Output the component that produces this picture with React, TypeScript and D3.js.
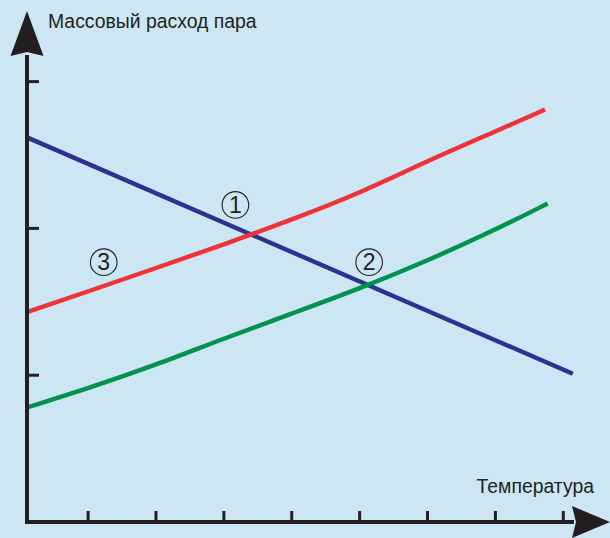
import React from "react";
import * as d3 from "d3";

// x in temperature units (ticks at 1..8), y in flow units (ticks at 1..3)
const tempSteps = [0.1, 1, 2, 3, 4, 5, 6, 7, 7.73];
const redValues = [1.43, 1.57, 1.73, 1.89, 2.06, 2.24, 2.46, 2.66, 2.81];
const greenTemps = [0.1, 1, 2, 3, 4, 5, 6, 7, 7.77];
const greenValues = [0.78, 0.91, 1.07, 1.25, 1.42, 1.59, 1.78, 1.99, 2.17];
const blueTemps = [0.1, 8.14];
const blueValues = [2.62, 1.01];

const xTicks = [1, 2, 3, 4, 5, 6, 7, 8];
const yTicks = [1, 2, 3];

const markers = [
  { label: "1", t: 3.17, v: 2.16 },
  { label: "2", t: 5.14, v: 1.77 },
  { label: "3", t: 1.23, v: 1.77 },
];

const yTitle = "Массовый расход пара";
const xTitle = "Температура";

const W = 610;
const H = 538;
const BG = "#cce7f3";
const INK = "#231f20";
const FONT = "'Liberation Sans', Arial, sans-serif";

export default function App() {
  const x = d3.scaleLinear().domain([0.1, 8]).range([27, 563.3]);
  const y = d3.scaleLinear().domain([0, 3]).range([522, 81.6]);

  // basis spline smooths out the small reading errors in the sampled values
  const line = d3
    .line<[number, number]>()
    .x((d) => x(d[0]))
    .y((d) => y(d[1]))
    .curve(d3.curveBasis);

  const series = [
    { color: "#2e3192", pts: blueTemps.map((t, i) => [t, blueValues[i]] as [number, number]) },
    { color: "#ef3237", pts: tempSteps.map((t, i) => [t, redValues[i]] as [number, number]) },
    { color: "#00934a", pts: greenTemps.map((t, i) => [t, greenValues[i]] as [number, number]) },
  ];

  const x0 = x(0.1);
  const y0 = y(0);

  return (
    <svg
      width={W}
      height={H}
      style={{ position: "absolute", left: 0, top: 0, display: "block" }}
    >
      <rect width={W} height={H} fill={BG} />

      {/* lines */}
      {series.map((s, i) => (
        <path
          key={i}
          d={line(s.pts) || ""}
          fill="none"
          stroke={s.color}
          strokeWidth={4.4}
        />
      ))}

      {/* axes */}
      <line x1={x0} y1={y0 + 2} x2={x0} y2={55} stroke={INK} strokeWidth={4} />
      <line x1={x0 - 2} y1={y0} x2={574} y2={y0} stroke={INK} strokeWidth={4} />
      <path d={`M${x0},11 L${x0 + 16.5},56 L${x0},52 L${x0 - 16.5},56 Z`} fill={INK} />
      <path d={`M610,${y0} L572,${y0 + 16} L576,${y0} L572,${y0 - 16} Z`} fill={INK} />

      {yTicks.map((v) => (
        <line key={v} x1={x0} x2={x0 + 12} y1={y(v)} y2={y(v)} stroke={INK} strokeWidth={3} />
      ))}
      {xTicks.map((t) => (
        <line key={t} x1={x(t)} x2={x(t)} y1={y0} y2={y0 - 11} stroke={INK} strokeWidth={3} />
      ))}

      {/* titles */}
      <text x={48} y={28} fontFamily={FONT} fontSize={19.4} fill={INK}>
        {yTitle}
      </text>
      <text x={594} y={493} textAnchor="end" fontFamily={FONT} fontSize={19.4} fill={INK}>
        {xTitle}
      </text>

      {/* circled markers */}
      {markers.map((m) => (
        <g key={m.label} transform={`translate(${x(m.t)},${y(m.v)})`}>
          <circle r={13.3} fill="none" stroke={INK} strokeWidth={1.1} />
          <text
            y={8}
            textAnchor="middle"
            fontFamily={FONT}
            fontSize={23}
            fill={INK}
          >
            {m.label}
          </text>
        </g>
      ))}
    </svg>
  );
}
